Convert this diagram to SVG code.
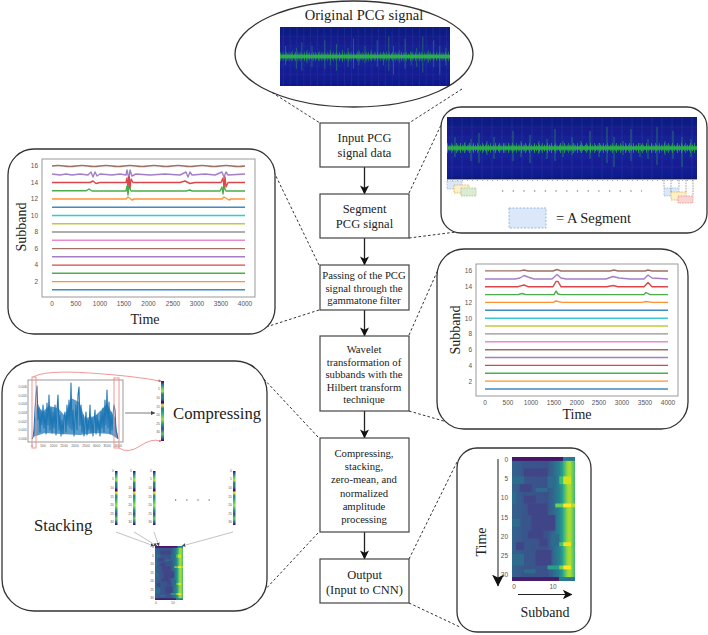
<svg xmlns="http://www.w3.org/2000/svg" xmlns:xlink="http://www.w3.org/1999/xlink" width="708" height="635" viewBox="0 0 708 635">
<style>
text{font-family:"Liberation Serif","Times New Roman",serif;fill:#222}
.panel{fill:#fff;stroke:#333;stroke-width:1.3}
.box{fill:#fff;stroke:#444;stroke-width:1.2}
.t12{font-size:12.5px;text-anchor:middle}
.t11{font-size:10.7px;text-anchor:middle}
.lab{font-size:14px;text-anchor:middle}
.big{font-size:16.7px}
.tick{font-family:"Liberation Sans",Arial,sans-serif;font-size:6.5px;fill:#555;text-anchor:middle}
.ty{font-family:"Liberation Sans",Arial,sans-serif;font-size:6.5px;fill:#555;text-anchor:end}
.mini{font-family:"Liberation Sans",Arial,sans-serif;font-size:3.4px;fill:#666;text-anchor:end}
.minic{font-family:"Liberation Sans",Arial,sans-serif;font-size:3.4px;fill:#666;text-anchor:middle}
.frame{fill:#fff;stroke:#999;stroke-width:1}
.dash{fill:none;stroke:#333;stroke-width:1;stroke-dasharray:2.600 2.200}
.flow{fill:none;stroke:#222;stroke-width:1.3;marker-end:url(#head)}
.sl path{fill:none;stroke-width:1.4;stroke-linejoin:round;stroke-opacity:.85}
.thin{fill:none;stroke:#999;stroke-width:.6}
.red{fill:none;stroke:#f08a8a;stroke-width:.9}
.seg{stroke-width:.7;stroke-dasharray:1.6 1}
.soft{filter:url(#blur)}
.softer{filter:url(#blurH)}
</style>
<defs>
<filter id="blur" x="-5%" y="-5%" width="110%" height="110%"><feGaussianBlur stdDeviation="0.45"/></filter>
<filter id="blurH" x="-3%" y="-3%" width="106%" height="106%"><feGaussianBlur stdDeviation="0.6"/></filter>
<marker id="head" viewBox="0 0 10 10" refX="9.5" refY="5" markerWidth="9" markerHeight="9" markerUnits="userSpaceOnUse" orient="auto"><path d="M0 0L10 5L0 10L2.500 5Z" fill="#111"/></marker>
<marker id="head2" viewBox="0 0 10 10" refX="9.500" refY="5" markerWidth="8" markerHeight="8" orient="auto"><path d="M0 0L10 5L0 10L2.500 5Z" fill="#111"/></marker>
<marker id="tiny" viewBox="0 0 10 10" refX="9.500" refY="5" markerWidth="6" markerHeight="6" orient="auto"><path d="M0 0L10 5L0 10Z" fill="#444"/></marker>
<linearGradient id="navy" x1="0" y1="0" x2="0" y2="1"><stop offset="0" stop-color="#0f1a80"/><stop offset=".5" stop-color="#17239a"/><stop offset="1" stop-color="#10198c"/></linearGradient>
<linearGradient id="hm" x1="0" y1="0" x2="1" y2="0">
<stop offset="0" stop-color="#33638d"/><stop offset=".2" stop-color="#39568c"/><stop offset=".55" stop-color="#3b518b"/><stop offset=".66" stop-color="#31688e"/><stop offset=".75" stop-color="#26828e"/><stop offset=".8" stop-color="#2a9d8e"/><stop offset=".85" stop-color="#5ec962"/><stop offset=".89" stop-color="#a5db36"/><stop offset=".93" stop-color="#a5db36"/><stop offset="1" stop-color="#35b779"/>
</linearGradient>
<linearGradient id="strip" x1="0" y1="0" x2="0" y2="1">
<stop offset="0" stop-color="#440154"/><stop offset=".05" stop-color="#31688e"/><stop offset=".1" stop-color="#35b779"/><stop offset=".17" stop-color="#b5de2b"/><stop offset=".22" stop-color="#26828e"/><stop offset=".3" stop-color="#2a788e"/><stop offset=".36" stop-color="#440154"/><stop offset=".4" stop-color="#fde725"/><stop offset=".46" stop-color="#26828e"/><stop offset=".55" stop-color="#35b779"/><stop offset=".64" stop-color="#a5db36"/><stop offset=".72" stop-color="#1f9e89"/><stop offset=".8" stop-color="#3b528b"/><stop offset=".88" stop-color="#5ec962"/><stop offset=".95" stop-color="#31688e"/><stop offset="1" stop-color="#440154"/>
</linearGradient>
<symbol id="spec" viewBox="0 0 250 62" preserveAspectRatio="none">
<rect width="250" height="62" fill="url(#navy)"/>
<path d="M5 0V62M15 0V62M25 0V62M35 0V62M45 0V62M55 0V62M65 0V62M75 0V62M85 0V62M95 0V62M105 0V62M115 0V62M125 0V62M135 0V62M145 0V62M155 0V62M165 0V62M175 0V62M185 0V62M195 0V62M205 0V62M215 0V62M225 0V62M235 0V62M245 0V62" stroke="#5a68c8" stroke-width=".5" opacity=".4"/>
<path d="M0 10H250M0 20H250M0 40H250M0 50H250" stroke="#5a68c8" stroke-width=".4" opacity=".3"/>
<path d="M8 20V40M18 25V36M24 22V44M32 16V46M40 24V38M47 20V42M58 26V36M66 14V44M74 24V40M83 18V46M92 24V37M100 22V42M108 12V44M116 24V40M125 20V38M134 24V36M143 14V42M152 26V40M160 10V46M167 20V50M176 24V38M184 12V44M193 26V40M201 22V42M210 10V48M218 24V38M226 14V42M235 20V50M244 22V40" stroke="#2f9f55" stroke-width=".8" opacity=".75"/>
<path d="M0 31H250" stroke="#2fa84a" stroke-width="10" stroke-dasharray=".8 3.300 .7 4.400 .9 2.900" opacity=".85"/>
<path d="M0 31H250" stroke="#2fae4a" stroke-width="6.500" stroke-dasharray="1.200 1.300 .8 1.800" opacity=".9"/>
<path d="M0 31H250" stroke="#2bac48" stroke-width="3.500"/>
</symbol>
<symbol id="heat" viewBox="0 0 16 32" preserveAspectRatio="none">
<rect width="16" height="32" fill="url(#hm)"/>
<g fill="#414487"><rect x="3" y="3" width="6" height="2"/><rect x="4" y="12" width="5" height="3"/><rect x="5" y="15" width="6" height="4"/><rect x="4" y="19" width="4" height="2"/><rect x="6" y="24" width="4" height="4"/><rect x="2" y="7" width="3" height="2"/><rect x="3" y="10" width="3" height="2"/><rect x="1" y="22" width="2" height="2"/><rect x="7" y="21" width="2" height="2"/></g>
<g fill="#2f6c8e"><rect y="5" width="3" height="2"/><rect y="16" width="2" height="2"/><rect y="25" width="3" height="3"/><rect x="9" y="5" width="2" height="3"/><rect x="10" y="20" width="2" height="3"/><rect y="9" width="1" height="3"/><rect x="6" y="8" width="3" height="1"/><rect x="3" y="29" width="3" height="1"/></g>
<rect width="13" height="1" fill="#46166a"/><rect x="13" width="3" height="1" fill="#2a788e"/>
<rect y="31" width="12" height="1" fill="#481a6c"/><rect x="12" y="31" width="4" height="1" fill="#2a788e"/>
<rect x="12" y="5" width="1" height="2" fill="#3dbc74"/><rect x="13" y="5" width="2" height="2" fill="#d2e21b"/>
<rect x="11" y="12" width="2" height="1" fill="#6ccd5a"/><rect x="13" y="12" width="2" height="1" fill="#fde725"/><rect x="15" y="12" width="1" height="1" fill="#b5de2b"/>
<rect x="12" y="22" width="1" height="1" fill="#4ac16d"/><rect x="13" y="22" width="2" height="1" fill="#f0e51c"/>
<rect x="9" y="28" width="3" height="1" fill="#2a9d8e"/><rect x="12" y="28" width="1" height="1" fill="#7ad151"/><rect x="13" y="28" width="2" height="1" fill="#fde725"/>
</symbol>
<g id="stripTicks"><text class="mini" y="1.200">0</text><text class="mini" y="9.800">5</text><text class="mini" y="18.400">10</text><text class="mini" y="27">15</text><text class="mini" y="35.600">20</text><text class="mini" y="44.200">25</text><text class="mini" y="52.800">30</text></g>
</defs>
<rect width="708" height="635" fill="#fff"/>

<g id="connectors">
<path class="dash" d="M268 90L320 123M462 89L409 123M409 193L441 125M409 238L456 232M274 172L319 265M319 310L263 328M409 335L437 272M409 411L447 422M318 437L262 377M318 533L262 593M409 559L458 460M409 603L460 627"/>
<path class="flow" d="M364.500 167V194"/><path class="flow" d="M364.500 238V265"/><path class="flow" d="M364.500 310V336"/><path class="flow" d="M364.500 411V438"/><path class="flow" d="M364.500 532V559"/>
</g>

<g id="original-signal">
<ellipse cx="354" cy="54" rx="119" ry="53" class="panel"/>
<text x="364" y="20" text-anchor="middle" font-size="14.500">Original PCG signal</text>
<use href="#spec" x="280" y="27" width="170" height="59" class="soft"/>
</g>

<g id="input-box"><rect class="box" x="320" y="123" width="89" height="44"/><text class="t12" x="364.500" y="142">Input PCG</text><text class="t12" x="364.500" y="157">signal data</text></g>
<g id="segment-box"><rect class="box" x="320" y="194" width="89" height="44"/><text class="t12" x="364.500" y="213">Segment</text><text class="t12" x="364.500" y="228">PCG signal</text></g>
<g id="gammatone-box"><rect class="box" x="320" y="265" width="89" height="45"/><text class="t11" x="364" y="279">Passing of the PCG</text><text class="t11" x="364" y="292">signal through the</text><text class="t11" x="364" y="304">gammatone filter</text></g>
<g id="wavelet-box"><rect class="box" x="320" y="336" width="89" height="75"/><text class="t11" x="364" y="353">Wavelet</text><text class="t11" x="364" y="366">transformation of</text><text class="t11" x="364" y="378">subbands with the</text><text class="t11" x="364" y="391">Hilbert transform</text><text class="t11" x="364" y="403">technique</text></g>
<g id="compress-box"><rect class="box" x="320" y="438" width="89" height="94"/><text class="t11" x="364" y="457">Compressing,</text><text class="t11" x="364" y="470">stacking,</text><text class="t11" x="364" y="483">zero-mean, and</text><text class="t11" x="364" y="497">normalized</text><text class="t11" x="364" y="510">amplitude</text><text class="t11" x="364" y="523">processing</text></g>
<g id="output-box"><rect class="box" x="320" y="559" width="89" height="44"/><text class="t12" x="364.500" y="579">Output</text><text class="t12" x="364.500" y="594">(Input to CNN)</text></g>

<g id="segment-panel">
<rect class="panel" x="441" y="107" width="266" height="126" rx="20"/>
<use href="#spec" x="447" y="117" width="250" height="62" class="soft"/>
<path d="M447 179H697" stroke="#222" stroke-width=".8"/>
<path d="M447 180.500H697" stroke="#aab" stroke-width="1" stroke-dasharray="1 4"/>
<g class="seg">
<rect x="447" y="181" width="15" height="8" fill="#dbe8fa" stroke="#8fb0dc"/>
<rect x="454" y="185" width="15" height="8" fill="#fdf0c8" stroke="#d6a93a"/>
<rect x="461" y="188" width="15" height="8" fill="#dcebd4" stroke="#9cbf86"/>
<rect x="664" y="188" width="15" height="8" fill="#dbe8fa" stroke="#8fb0dc"/>
<rect x="671" y="192" width="15" height="8" fill="#fdf0c8" stroke="#d6a93a"/>
<rect x="678" y="196" width="15" height="7" fill="#f9d6d2" stroke="#e08a84"/>
<path d="M664 180V188M671 180V192M679 180V188M686 180V192M693 180V196" stroke="#777" fill="none"/>
</g>
<path d="M502 191H642" stroke="#555" stroke-width="1.200" stroke-dasharray="1.200 9.500" fill="none"/>
<rect x="509" y="208" width="37" height="20" fill="#dbe8fa" stroke="#8fb0dc" stroke-width=".9" stroke-dasharray="2 1.500"/>
<text x="556" y="223" font-size="14.500">= A Segment</text>
</g>

<g id="gammatone-panel">
<rect class="panel" x="8" y="149" width="267" height="185" rx="26"/>
<rect class="frame" x="42" y="159" width="213" height="138"/>
<g class="sl soft">
<path stroke="#8c564b" d="M52 166Q58 165 64 166T76 166T88 166T100 166T112 166T124 166T136 166T148 166T160 166T172 166T184 166T196 166T208 166T220 166T232 166T245 166"/>
<path stroke="#9467bd" d="M52 174L60 175 66 174 72 175 80 174 88 175 91 172 93 177 95 172 97 176 100 174 112 175 120 174 126 175 127 170 129 179 130 170 132 176 136 174 150 175 165 174 180 175 186 172 188 177 190 172 192 175 205 174 215 175 222 172 224 177 226 172 228 175 245 174"/>
<path stroke="#d62728" d="M52 182.500L90 182.500 93 181 96 183.500 100 182.500 126 182.500 127 178 128 187 129 177 130 188 131 179 133 182.500 180 182.500 185 181 190 183.500 195 182.500 221 182.500 223 178 224 188 225 177 226 187 228 182.500 245 182.500"/>
<path stroke="#2ca02c" d="M52 190.800H86L89 189 92 191H126L127 186 128 195 129 186 131 191H186L190 190 192 191H220L222 187 223 194 224 187 226 191H245"/>
<path stroke="#ff7f0e" d="M52 199H126L128 197 132 200 134 199H222L224 197 229 200 231 199H245"/>
<path stroke="#1f77b4" d="M52 207.300H245"/><path stroke="#17becf" d="M52 215.500H245"/><path stroke="#bcbd22" d="M52 223.800H245"/><path stroke="#7f7f7f" d="M52 232H245"/><path stroke="#e377c2" d="M52 240.300H245"/><path stroke="#8c564b" d="M52 248.600H245"/><path stroke="#9467bd" d="M52 256.800H245"/><path stroke="#d62728" d="M52 265.100H245"/><path stroke="#2ca02c" d="M52 273.300H245"/><path stroke="#ff7f0e" d="M52 281.600H245"/><path stroke="#1f77b4" d="M52 289.800H245"/>
</g>
<text class="ty" x="38" y="168">16</text><text class="ty" x="38" y="185">14</text><text class="ty" x="38" y="201">12</text><text class="ty" x="38" y="218">10</text><text class="ty" x="38" y="234">8</text><text class="ty" x="38" y="251">6</text><text class="ty" x="38" y="267">4</text><text class="ty" x="38" y="284">2</text>
<text class="tick" x="52" y="306">0</text><text class="tick" x="76" y="306">500</text><text class="tick" x="100" y="306">1000</text><text class="tick" x="124" y="306">1500</text><text class="tick" x="148.500" y="306">2000</text><text class="tick" x="173" y="306">2500</text><text class="tick" x="197" y="306">3000</text><text class="tick" x="221" y="306">3500</text><text class="tick" x="245" y="306">4000</text>
<text class="lab" transform="translate(26 227) rotate(-90)">Subband</text>
<text class="lab" x="145" y="324">Time</text>
</g>

<g id="wavelet-panel">
<rect class="panel" x="437" y="249" width="251" height="180" rx="27"/>
<rect class="frame" x="476" y="264" width="202" height="132"/>
<g class="sl soft">
<path stroke="#8c564b" d="M485 270.900H520L524 270 528 271H553L557 269.500 561 271H610L614 270 618 271H645L648 270 652 271H668"/>
<path stroke="#9467bd" d="M485 279H515L520 278 524 275.500 528 277 534 279H552L557 274.500 561 278 566 279H606L613 276.500 619 278 630 279H644L648 275 652 278 660 278.500 668 279"/>
<path stroke="#d62728" d="M485 286.700H518L524 285 528 286.700H553L556 281.500 558 281.500 561 286.700H607L613 285.500 618 286.700H644L648 282.500 652 286.700H668"/>
<path stroke="#2ca02c" d="M485 294.600H518L522 293.500 526 294.600H554L556 291 558 294 561 294.600H644L646 292.500 650 294.600H668"/>
<path stroke="#ff7f0e" d="M485 302.400H553L556 301 562 302.400H642L646 301.500 652 302.400H668"/>
<path stroke="#1f77b4" d="M485 310.300H668"/><path stroke="#17becf" d="M485 318.200H668"/><path stroke="#bcbd22" d="M485 326H668"/><path stroke="#7f7f7f" d="M485 333.900H668"/><path stroke="#e377c2" d="M485 341.800H668"/><path stroke="#8c564b" d="M485 349.700H668"/><path stroke="#9467bd" d="M485 357.500H668"/><path stroke="#d62728" d="M485 365.400H668"/><path stroke="#2ca02c" d="M485 373.300H668"/><path stroke="#ff7f0e" d="M485 381.100H668"/><path stroke="#1f77b4" d="M485 389H668"/>
</g>
<text class="ty" x="472" y="273">16</text><text class="ty" x="472" y="289">14</text><text class="ty" x="472" y="305">12</text><text class="ty" x="472" y="320.500">10</text><text class="ty" x="472" y="336">8</text><text class="ty" x="472" y="352">6</text><text class="ty" x="472" y="368">4</text><text class="ty" x="472" y="383.500">2</text>
<text class="tick" x="485" y="405">0</text><text class="tick" x="508" y="405">500</text><text class="tick" x="531" y="405">1000</text><text class="tick" x="554" y="405">1500</text><text class="tick" x="577" y="405">2000</text><text class="tick" x="599" y="405">2500</text><text class="tick" x="622" y="405">3000</text><text class="tick" x="645" y="405">3500</text><text class="tick" x="668" y="405">4000</text>
<text class="lab" transform="translate(460 330) rotate(-90)">Subband</text>
<text class="lab" x="577" y="419">Time</text>
</g>

<g id="compress-panel">
<rect class="panel" x="2" y="361" width="265" height="250" rx="32"/>
<rect class="frame" x="28" y="380" width="95" height="62" stroke-width=".8"/>
<g class="soft">
<path fill="#5a9bca" d="M33 437L37 402 42 412 49 406 58 408 65 416 71 398 79 402 85 418 95 416 107 404 115 418 118 439 110 434 95 433 80 435 60 434 45 433Z"/>
<path fill="none" stroke="#1f77b4" stroke-width="1.100" stroke-linejoin="round" d="M32 439L33 437 34 430 35 410 36 395 37 386 38 420 39 408 40 432 41 410 42 425 43 405 44 428 45 412 46 434 47 403 48 425 49 395 50 430 51 408 52 433 53 412 54 428 55 405 56 435 57 410 58 395 59 430 60 415 61 436 62 420 63 434 64 418 65 412 66 432 67 405 68 425 69 400 70 428 71 383 72 430 73 410 74 436 75 420 76 405 77 430 78 395 79 387 80 425 81 405 82 432 83 415 84 436 85 425 86 412 87 435 88 420 89 430 90 405 91 433 92 418 93 436 94 422 95 410 96 434 97 415 98 430 99 420 100 436 101 412 102 428 103 408 104 432 105 400 106 425 107 390 108 428 109 402 110 434 111 412 112 430 113 415 114 405 115 410 116 430 117 434 118 439"/>
</g>
<g><text class="mini" x="27" y="388">0.006</text><text class="mini" x="27" y="396.500">0.005</text><text class="mini" x="27" y="405">0.004</text><text class="mini" x="27" y="414">0.003</text><text class="mini" x="27" y="422.500">0.002</text><text class="mini" x="27" y="431">0.001</text><text class="mini" x="27" y="440">0.000</text></g>
<g><text class="minic" x="32" y="447">0</text><text class="minic" x="43" y="447">500</text><text class="minic" x="53.500" y="447">1000</text><text class="minic" x="64" y="447">1500</text><text class="minic" x="75" y="447">2000</text><text class="minic" x="86" y="447">2500</text><text class="minic" x="96.500" y="447">3000</text><text class="minic" x="107" y="447">3500</text><text class="minic" x="118" y="447">4000</text></g>
<rect class="red" x="32" y="377" width="4" height="71"/>
<rect class="red" x="114" y="378" width="5" height="70"/>
<path class="red" d="M33 377Q45 370 90 373T160 381M119 448Q128 454 140 446T160 441"/>
<rect x="161" y="381" width="3" height="60" fill="url(#strip)" class="soft"/>
<path d="M159 381h2M159 441h2" stroke="#e03030" stroke-width="1.200"/>
<g transform="translate(160 380.500)"><use href="#stripTicks" y="0"/></g>
<path d="M125 413H155" stroke="#444" stroke-width=".7" fill="none" marker-end="url(#tiny)"/>
<text class="big" x="173" y="419">Compressing</text>
<text class="big" x="34" y="531">Stacking</text>
<g class="soft"><rect x="115" y="471" width="2.500" height="54" fill="url(#strip)"/><rect x="133" y="471" width="2.500" height="54" fill="url(#strip)"/><rect x="153" y="471" width="2.500" height="54" fill="url(#strip)"/><rect x="233" y="471" width="2.500" height="54" fill="url(#strip)"/></g>
<use href="#stripTicks" x="114" y="470.500"/><use href="#stripTicks" x="132" y="470.500"/><use href="#stripTicks" x="152" y="470.500"/><use href="#stripTicks" x="232" y="470.500"/>
<path d="M175 500H210" stroke="#444" stroke-width="1.200" stroke-dasharray="1.200 10" fill="none"/>
<g class="thin"><path d="M116 532L154 546" marker-end="url(#tiny)"/><path d="M134 532L157 546" marker-end="url(#tiny)"/><path d="M154 532L159 546" marker-end="url(#tiny)"/><path d="M233 532L182 546" marker-end="url(#tiny)"/></g>
<use href="#heat" x="155" y="546" width="28" height="54" class="soft"/>
<g><text class="mini" x="154" y="548">0</text><text class="mini" x="154" y="556.500">5</text><text class="mini" x="154" y="565">10</text><text class="mini" x="154" y="573.500">15</text><text class="mini" x="154" y="582">20</text><text class="mini" x="154" y="590.500">25</text><text class="mini" x="154" y="599">30</text><text class="minic" x="156" y="604">0</text><text class="minic" x="173" y="604">10</text></g>
</g>

<g id="output-panel">
<rect class="panel" x="457" y="448" width="134" height="184" rx="20"/>
<use href="#heat" x="512" y="457" width="63" height="124" class="softer"/>
<text class="ty" x="508" y="462">0</text><text class="ty" x="508" y="481">5</text><text class="ty" x="508" y="500">10</text><text class="ty" x="508" y="520">15</text><text class="ty" x="508" y="539">20</text><text class="ty" x="508" y="558">25</text><text class="ty" x="508" y="577">30</text>
<text class="tick" x="514" y="589">0</text><text class="tick" x="553" y="589">10</text>
<path d="M498 459V586" stroke="#666" stroke-width="1.500" fill="none" marker-end="url(#head2)"/>
<path d="M518 594.500H572" stroke="#222" stroke-width="1.200" fill="none" marker-end="url(#head2)"/>
<text class="lab" transform="translate(486 542) rotate(-90)">Time</text>
<text class="lab" x="545" y="617">Subband</text>
</g>
</svg>
